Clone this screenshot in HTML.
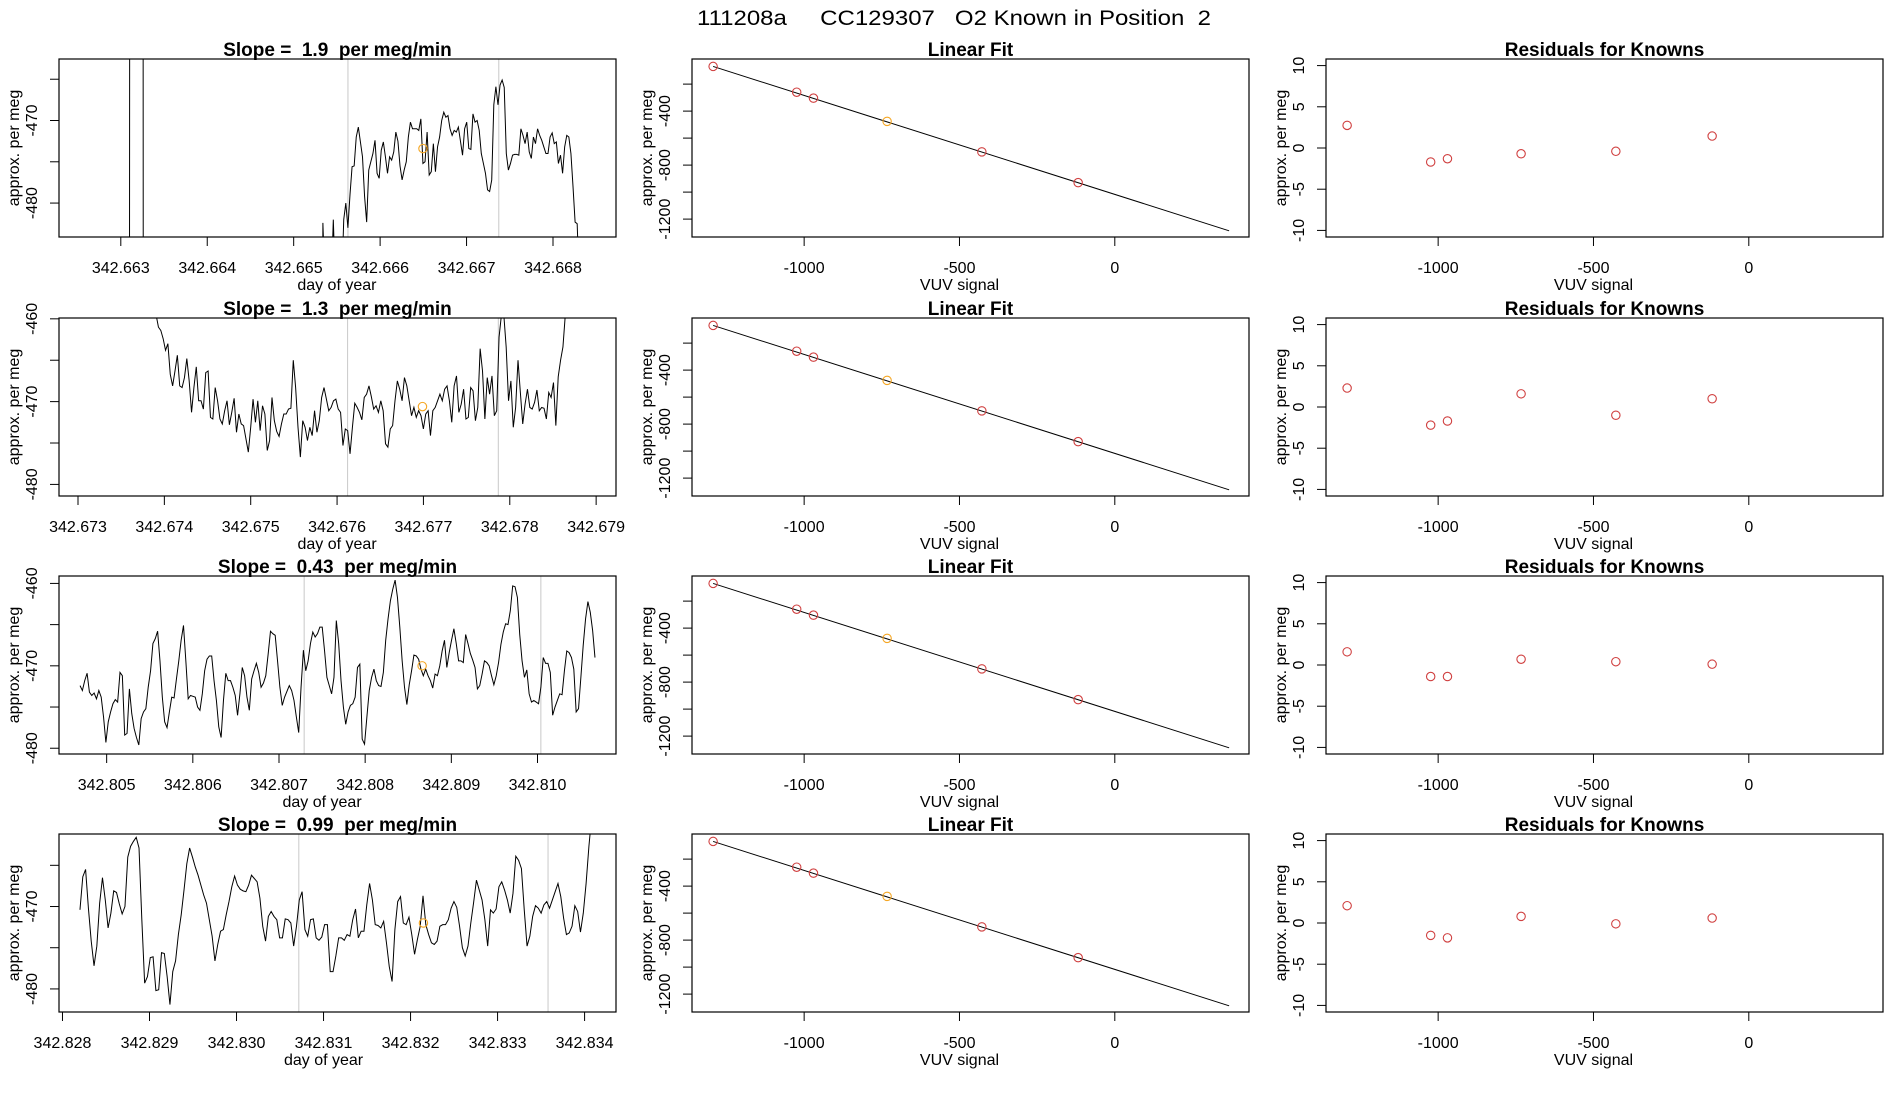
<!DOCTYPE html>
<html><head><meta charset="utf-8"><title>111208a CC129307 O2 Known in Position 2</title>
<style>
html,body{margin:0;padding:0;background:#fff;}
svg{display:block;font-family:"Liberation Sans",Arial,sans-serif;}
</style></head>
<body>
<svg id="chart" xmlns="http://www.w3.org/2000/svg" width="1900" height="1100" viewBox="0 0 1900 1100">
<rect x="0" y="0" width="1900" height="1100" fill="#fff"/>
<text x="954" y="25" font-size="21" text-anchor="middle" textLength="514" lengthAdjust="spacingAndGlyphs" style="white-space:pre" xml:space="preserve">111208a     CC129307   O2 Known in Position  2</text>
</svg>
<script>
// ---------- data ----------
const slopeTitles = ["Slope =  1.9  per meg/min","Slope =  1.3  per meg/min","Slope =  0.43  per meg/min","Slope =  0.99  per meg/min"];
const r1PreT = [342.66310, 342.663106, 342.663256, 342.66326, 342.66533];
const r1PreV = [-500, -400, -400, -500, -500];
const r1Start = 342.665338, r1End = 342.668304;
const r1Vals = [-482.4,-490,-490,-490,-490,-482,-490,-490,-490,-490,-482,-480,-483,-479,-475.6,-475.5,-472,-470.8,-472.6,-474.4,-479.2,-482.3,-476,-475,-474,-472.4,-476.4,-477,-473.6,-472.6,-474.4,-476.4,-474.4,-474.8,-473.8,-471.4,-472.5,-475.5,-477.2,-476,-475,-472,-470.2,-471,-471,-471,-471.2,-469.8,-475.2,-475,-471.4,-476.6,-476.2,-472.8,-476.2,-473.2,-472,-470,-469,-469.6,-469.4,-471,-471.8,-471.2,-471.4,-470.8,-472.5,-474.2,-471,-470.2,-473.4,-473.5,-469.2,-470.2,-470,-471.2,-474,-475.2,-476.4,-478.4,-478.6,-477.2,-468.1,-465.9,-468.1,-465.7,-465.1,-466,-474,-476,-475.2,-474.2,-474.1,-474.1,-474.2,-471,-471.8,-472.8,-471.4,-473.8,-474.6,-472,-472.8,-471,-471.8,-472.4,-473.2,-474,-474,-472,-471.5,-472.8,-472.6,-475.2,-474.2,-476.4,-473.2,-471.8,-472,-474,-478,-482.3,-482.5,-490];
const r2Start = 342.673904, r2End = 342.678643;
const r2Vals = [-459.5,-461.0,-461.4,-462.4,-463.8,-463.0,-466.7,-468.1,-466.3,-464.4,-468.1,-468.3,-467.1,-464.8,-467.5,-471.3,-468.3,-465.8,-469.9,-469.9,-470.9,-466.5,-466.3,-471.9,-472.1,-468.3,-469.9,-472.1,-472.7,-471.1,-469.9,-472.8,-471.3,-469.6,-473.7,-471.5,-472.7,-472.9,-474.5,-476.1,-473.1,-469.7,-472.5,-469.9,-473.5,-470.5,-471.5,-475.9,-474.7,-469.5,-472.3,-473.6,-474.2,-472.7,-471.5,-471.5,-470.9,-470.8,-465.0,-468.3,-473.1,-476.7,-472.3,-473.1,-474.7,-473.1,-474.1,-471.1,-473.7,-472.3,-469.5,-468.3,-469.7,-471.1,-470.7,-469.9,-469.7,-470.9,-471.3,-475.3,-473.3,-473.5,-476.3,-473.1,-470.2,-470.7,-471.3,-472.2,-469.5,-469.1,-468.1,-469.4,-470.9,-470.5,-471.3,-469.9,-471.1,-475.1,-475.5,-473.3,-472.9,-469.9,-467.5,-468.5,-469.9,-467.1,-468.1,-469.9,-471.7,-470.7,-471.9,-471.1,-471.7,-473.3,-471.5,-471.1,-474.1,-471.1,-470.7,-469.9,-469.1,-469.9,-468.5,-468.1,-469.9,-472.5,-468.1,-466.9,-471.3,-470.3,-468.5,-472.1,-471.9,-468.3,-468.7,-472.3,-470.7,-463.6,-466.3,-472.1,-467.1,-469.1,-466.9,-471.7,-471.1,-462.2,-459.5,-459.5,-463.4,-469.9,-467.5,-473.1,-470.7,-465.0,-468.9,-472.7,-470.3,-468.5,-470.7,-470.9,-470.1,-468.6,-471.1,-470.7,-470.8,-472.1,-468.9,-469.5,-467.7,-472.9,-467.0,-465.0,-463.4,-459.5];
const r3Start = 342.804691, r3End = 342.810667;
const r3Vals = [-472.4,-473.0,-471.8,-470.9,-473.2,-473.6,-473.3,-474.0,-473.0,-473.8,-476.2,-479.3,-476.8,-475.6,-474.6,-474.1,-474.4,-470.8,-471.2,-478.4,-478.2,-472.8,-475.8,-477.6,-478.7,-479.6,-476.4,-475.6,-475.2,-472.6,-470.6,-467.3,-466.7,-465.8,-469.4,-473.8,-476.8,-477.5,-475.6,-473.8,-473.9,-471.6,-469.4,-466.9,-465.1,-469.4,-474.0,-473.6,-473.7,-473.8,-475.0,-475.4,-473.4,-470.6,-469.2,-468.8,-468.8,-471.8,-474.2,-477.4,-478.7,-474.2,-470.9,-471.8,-471.8,-472.6,-473.6,-476.0,-473.4,-470.2,-471.2,-473.8,-475.4,-471.6,-470.6,-469.7,-470.8,-472.6,-472.1,-471.2,-468.6,-465.8,-466.1,-466.3,-469.4,-472.6,-474.8,-473.8,-473.1,-472.4,-473.0,-474.2,-476.2,-478.1,-472.6,-468.1,-470.6,-469.4,-467.3,-465.9,-466.5,-466.1,-465.3,-465.3,-468.2,-471.4,-472.4,-473.4,-471.4,-464.5,-467.3,-471.8,-475.0,-477.1,-475.6,-474.8,-474.6,-473.8,-470.2,-469.8,-478.9,-479.5,-476.2,-473.0,-471.4,-470.4,-471.8,-472.4,-472.5,-470.8,-466.9,-464.3,-462.1,-460.7,-459.6,-461.7,-465.3,-469.4,-472.6,-474.7,-472.3,-470.6,-468.7,-468.8,-469.2,-470.4,-471.2,-470.4,-471.2,-471.8,-472.7,-471.0,-471.2,-470.0,-468.2,-466.9,-470.2,-468.4,-466.9,-465.5,-467.3,-469.4,-469.4,-469.6,-466.2,-467.3,-468.5,-469.3,-470.2,-472.8,-472.4,-471.0,-469.4,-469.6,-470.0,-471.2,-472.3,-471.2,-469.6,-467.4,-465.9,-464.9,-465.0,-463.3,-460.3,-460.4,-461.7,-466.2,-469.4,-471.4,-470.5,-473.4,-474.4,-474.2,-474.4,-474.6,-472.6,-469.0,-469.7,-469.7,-470.8,-476.0,-475.0,-474.2,-473.4,-473.5,-470.6,-468.2,-468.4,-469.0,-470.4,-475.6,-475.2,-471.4,-467.5,-464.3,-462.2,-463.5,-465.7,-469.0];
const r4Start = 342.828201, r4End = 342.834082;
const r4Vals = [-470.4,-466.4,-465.5,-470.2,-474.2,-477.2,-474.8,-469.6,-466.5,-469.2,-472.6,-470.8,-468.1,-468.3,-469.7,-470.9,-470.0,-464.0,-462.7,-462.1,-461.6,-462.9,-471.6,-479.3,-478.5,-476.2,-476.1,-480.2,-480.1,-475.6,-475.7,-478.5,-481.9,-477.9,-476.6,-473.4,-471.0,-468.0,-464.8,-462.9,-464.0,-465.2,-466.2,-467.4,-468.6,-469.6,-471.6,-473.6,-476.6,-474.6,-473.0,-472.8,-471.0,-469.4,-467.6,-466.3,-467.4,-467.9,-468.1,-468.2,-467.4,-466.2,-466.6,-467.0,-469.0,-472.4,-474.2,-471.2,-470.6,-471.2,-471.6,-473.8,-473.8,-471.5,-471.6,-472.0,-474.8,-472.4,-469.2,-468.2,-472.8,-473.6,-471.6,-471.5,-473.8,-474.1,-473.7,-472.2,-472.2,-477.9,-477.9,-476.0,-473.8,-473.8,-474.1,-473.4,-473.6,-471.6,-470.3,-473.8,-473.0,-473.0,-469.8,-467.2,-469.2,-472.2,-472.3,-472.6,-471.8,-474.4,-477.3,-479.1,-472.8,-469.4,-468.8,-472.0,-472.2,-471.3,-473.4,-475.8,-474.0,-472.4,-468.7,-472.2,-473.4,-474.4,-474.6,-474.2,-472.4,-472.2,-472.2,-471.6,-470.2,-469.4,-470.1,-472.4,-475.0,-476.0,-474.8,-472.0,-469.5,-466.8,-468.0,-469.2,-471.6,-474.8,-470.4,-470.8,-470.3,-467.6,-467.0,-468.0,-469.2,-470.8,-468.4,-463.9,-464.4,-465.4,-470.4,-474.8,-473.6,-471.2,-469.9,-470.2,-470.8,-469.8,-469.4,-470.2,-469.2,-468.2,-467.2,-468.8,-471.4,-473.4,-473.2,-472.4,-469.9,-470.6,-473.1,-470.8,-467.2,-462.7,-459.0];
const tsXDomain = [[342.662285,342.668729],[342.67278,342.67923],[342.804447,342.810911],[342.82796,342.834361]];
const tsYDomain = [[-484.11,-462.55],[-481.4,-459.9],[-480.7,-459.1],[-482.8,-461.2]];
const tsXTicks = [[342.663,342.664,342.665,342.666,342.667,342.668],[342.673,342.674,342.675,342.676,342.677,342.678,342.679],[342.805,342.806,342.807,342.808,342.809,342.810],[342.828,342.829,342.830,342.831,342.832,342.833,342.834]];
const tsYTicks = [[-465,-470,-475,-480],[-460,-465,-470,-475,-480],[-460,-465,-470,-475,-480],[-465,-470,-475,-480]];
const tsYLabels = [[-470,-480],[-460,-470,-480],[-460,-470,-480],[-470,-480]];
const windowMarks = [[342.665628,342.667373],[342.676122,342.677867],[342.807292,342.810039],[342.830716,342.833580]];
const knownT = [342.666496,342.676989,342.808661,342.832148];
const knownV = [-473.4,-470.6,-470.0,-472.0];
// linear fit data
const vuvSignal = [-1293,-1024,-970,-733,-428,-118];
const perMeg = [-69,-260,-304,-476,-702,-930];
const fitIntercept = -1017, fitSlope = -0.733;
const fitLineRange = [-1293,368];
const currentIdx = 3;
const fitXDomain = [-1361,432], fitYDomain = [-1332.6,-14];
const fitXTicks = [-1000,-500,0];
const fitYTicks = [-200,-400,-600,-800,-1000,-1200];
const fitYLabels = [-400,-800,-1200];
// residuals
const residRow1 = [2.75,-1.7,-1.3,-0.7,-0.4,1.45];
const residRow2 = [2.3,-2.2,-1.7,1.6,-1.0,1.0];
const residRow3 = [1.6,-1.4,-1.4,0.7,0.4,0.1];
const residRow4 = [2.1,-1.5,-1.8,0.8,-0.1,0.6];
const residYDomain = [-10.8,10.8];
const residYTicks = [-10,-5,0,5,10];

// ---------- drawing ----------
const NS = "http://www.w3.org/2000/svg";
const svg = document.getElementById("chart");
const rowTop = [59,318,576,834];
const colLeft = [59,692,1326];
const PW = 557, PH = 178;
function mk(tag, parent){ const e = document.createElementNS(NS, tag); (parent||svg).appendChild(e); return e; }
function lin(d, r){ return v => r[0] + (v - d[0]) / (d[1] - d[0]) * (r[1] - r[0]); }
function fmt(v, dec){ return v.toFixed(dec).replace("-", "-"); }

function frame(g, x0, y0, name){
  const r = mk("rect", g);
  r.setAttribute("x", x0); r.setAttribute("y", y0); r.setAttribute("width", PW); r.setAttribute("height", PH);
  r.setAttribute("fill", "none"); r.setAttribute("stroke", "#000"); r.setAttribute("stroke-width", "1.2");
  
  
}
function addText(g, x, y, str, size, anchor, rot, bold){
  const t = mk("text", g);
  t.setAttribute("x", x); t.setAttribute("y", y);
  t.setAttribute("font-size", size); t.setAttribute("text-anchor", anchor || "middle");
  if (bold) t.setAttribute("font-weight", "bold");
  if (rot) t.setAttribute("transform", "rotate(-90 " + x + " " + y + ")");
  t.setAttribute("xml:space", "preserve"); t.style.whiteSpace = "pre";
  t.textContent = str;
  return t;
}
function clip(id, x0, y0){
  const defs = mk("defs");
  const cp = mk("clipPath", defs); cp.setAttribute("id", id);
  const r = mk("rect", cp); r.setAttribute("x", x0); r.setAttribute("y", y0); r.setAttribute("width", PW); r.setAttribute("height", PH);
}
function xAxis(g, sx, ticks, y0, dec, lbl){
  ticks.forEach(v => {
    const l = mk("line", g);
    l.setAttribute("x1", sx(v)); l.setAttribute("x2", sx(v)); l.setAttribute("y1", y0 + PH); l.setAttribute("y2", y0 + PH + 9);
    l.setAttribute("stroke", "#000");
    const t = addText(g, sx(v), y0 + PH + 36, fmt(v, dec), 16);
    
    
  });
  const a = addText(g, (sx(ticks[0]) + sx(ticks[ticks.length-1])) / 2, y0 + PH + 53, lbl, 16);
  
  
}
function yAxis(g, sy, ticks, labels, x0, y0, dec){
  ticks.forEach(v => {
    const l = mk("line", g);
    l.setAttribute("x1", x0 - 9); l.setAttribute("x2", x0); l.setAttribute("y1", sy(v)); l.setAttribute("y2", sy(v));
    l.setAttribute("stroke", "#000");
  });
  labels.forEach(v => {
    const t = addText(g, x0 - 22, sy(v), fmt(v, dec), 16, "middle", true);
    
    
  });
  const a = addText(g, x0 - 40, y0 + PH / 2, "approx. per meg", 16, "middle", true);
  
  
}
function circle(g, cx, cy, color, name){
  const c = mk("circle", g);
  c.setAttribute("cx", cx); c.setAttribute("cy", cy); c.setAttribute("r", 4.2);
  c.setAttribute("fill", "none"); c.setAttribute("stroke", color); c.setAttribute("stroke-width", "1.1");
  
  
}

const tsSeries = [
  {pt: r1PreT, pv: r1PreV, s: r1Start, e: r1End, v: r1Vals},
  {pt: [], pv: [], s: r2Start, e: r2End, v: r2Vals},
  {pt: [], pv: [], s: r3Start, e: r3End, v: r3Vals},
  {pt: [], pv: [], s: r4Start, e: r4End, v: r4Vals}
];
const residRows = [residRow1, residRow2, residRow3, residRow4];

for (let r = 0; r < 4; r++){
  const y0 = rowTop[r];
  // ---- time series panel ----
  let x0 = colLeft[0];
  const g = mk("g");
  
  
  const sx = lin(tsXDomain[r], [x0, x0 + PW]);
  const sy = lin(tsYDomain[r], [y0 + PH, y0]);
  clip("c" + r + "a", x0, y0);
  const cg = mk("g", g); cg.setAttribute("clip-path", "url(#c" + r + "a)");
  windowMarks[r].forEach(t => {
    const l = mk("line", cg);
    l.setAttribute("x1", sx(t)); l.setAttribute("x2", sx(t)); l.setAttribute("y1", y0); l.setAttribute("y2", y0 + PH);
    l.setAttribute("stroke", "#c8c8c8"); l.setAttribute("stroke-width", "1");
    
    
  });
  const ser = tsSeries[r];
  const pts = [];
  ser.pt.forEach((t, i) => pts.push(sx(t).toFixed(2) + "," + sy(ser.pv[i]).toFixed(2)));
  const n = ser.v.length;
  ser.v.forEach((v, i) => {
    const t = ser.s + (ser.e - ser.s) * i / (n - 1);
    pts.push(sx(t).toFixed(2) + "," + sy(v).toFixed(2));
  });
  const pl = mk("polyline", cg);
  pl.setAttribute("points", pts.join(" "));
  pl.setAttribute("fill", "none"); pl.setAttribute("stroke", "#000"); pl.setAttribute("stroke-width", "1");
  
  
  circle(cg, sx(knownT[r]), sy(knownV[r]), "#f5a623", "known-mean-marker");
  frame(g, x0, y0, "timeseries");
  xAxis(g, sx, tsXTicks[r], y0, 3, "day of year");
  yAxis(g, sy, tsYTicks[r], tsYLabels[r], x0, y0, 0);
  const tt = addText(g, x0 + PW / 2, y0 - 3, slopeTitles[r], 19, "middle", false, true);
  
  

  // ---- linear fit panel ----
  x0 = colLeft[1];
  const g2 = mk("g");
  
  
  const fx = lin(fitXDomain, [x0, x0 + PW]);
  const fy = lin(fitYDomain, [y0 + PH, y0]);
  const fl = mk("line", g2);
  fl.setAttribute("x1", fx(fitLineRange[0])); fl.setAttribute("y1", fy(fitIntercept + fitSlope * fitLineRange[0]));
  fl.setAttribute("x2", fx(fitLineRange[1])); fl.setAttribute("y2", fy(fitIntercept + fitSlope * fitLineRange[1]));
  fl.setAttribute("stroke", "#000"); fl.setAttribute("stroke-width", "1");
  
  
  vuvSignal.forEach((v, i) => circle(g2, fx(v), fy(perMeg[i]), i === currentIdx ? "#f5a623" : "#d04040", "known-point"));
  frame(g2, x0, y0, "linear-fit");
  xAxis(g2, fx, fitXTicks, y0, 0, "VUV signal");
  yAxis(g2, fy, fitYTicks, fitYLabels, x0, y0, 0);
  const t2 = addText(g2, x0 + PW / 2, y0 - 3, "Linear Fit", 19, "middle", false, true);
  
  

  // ---- residual panel ----
  x0 = colLeft[2];
  const g3 = mk("g");
  
  
  const rx = lin(fitXDomain, [x0, x0 + PW]);
  const ry = lin(residYDomain, [y0 + PH, y0]);
  vuvSignal.forEach((v, i) => circle(g3, rx(v), ry(residRows[r][i]), "#d04040", "residual-point"));
  frame(g3, x0, y0, "residuals");
  xAxis(g3, rx, fitXTicks, y0, 0, "VUV signal");
  yAxis(g3, ry, residYTicks, residYTicks, x0, y0, 0);
  const t3 = addText(g3, x0 + PW / 2, y0 - 3, "Residuals for Knowns", 19, "middle", false, true);
  
  
}
</script>
</body></html>
